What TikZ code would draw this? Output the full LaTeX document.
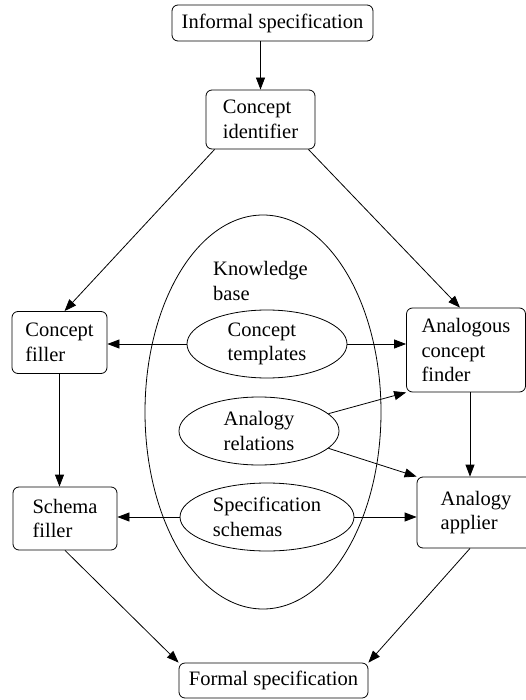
\documentclass[tikz,border=0pt]{standalone}
\usepackage{fontspec}
\setmainfont{Liberation Serif}
\usetikzlibrary{arrows.meta,shapes.geometric}
\begin{document}
\begin{tikzpicture}[x=1pt,y=-1pt,font=\fontsize{20.5}{24.5}\selectfont]
 \tikzstyle{unit} = [draw, rounded corners=6pt, align=left, inner sep=0pt, line width=0.8pt];
 \tikzstyle{store} = [draw, ellipse, align=left, inner sep=0pt, line width=0.8pt];
 \tikzstyle{flow} = [-{Triangle[length=12pt,width=9pt]}, line width=0.8pt];
 \useasboundingbox (0,0) rectangle (526,700);
\node [unit, minimum width=201pt, minimum height=36pt] (v1) at (272.5,23) {Informal specification};
\node [unit, minimum width=109pt, minimum height=59pt] (v2) at (260.5,119.5) {Concept\\identifier};
\node [unit, minimum width=95pt, minimum height=62pt] (v3) at (59.5,342.5) {Concept\\filler};
\node [unit, minimum width=119pt, minimum height=84pt] (v4) at (466,350) {Analogous\\concept\\finder};
\node [unit, minimum width=104pt, minimum height=63pt] (v5) at (65,518.5) {Schema\\filler};
\node [unit, minimum width=118pt, minimum height=71pt] (v6) at (476,512.5) {Analogy\\applier};
\node [unit, minimum width=189pt, minimum height=35pt] (v7) at (273.5,680.5) {Formal specification};

\node [store, minimum width=236pt, minimum height=394pt] (v8) at (263,412) {};
\node [align=left, inner sep=0pt, anchor=west] (v9) at (213,281) {Knowledge\\base};
\node [store, minimum width=160pt, minimum height=68pt] (v10) at (267,344) {Concept\\templates};
\node [store, minimum width=160pt, minimum height=68pt] (v11) at (259,431) {Analogy\\relations};
\node [store, minimum width=174pt, minimum height=68pt] (v12) at (267,517) {Specification\\schemas};

\draw [flow] (v1.south -| v2.north) -- (v2);
\draw [flow] ([xshift=9pt]v2.south west) -- ([xshift=5pt]v3.north);
\draw [flow] ([xshift=-7pt]v2.south east) -- ([xshift=-6pt]v4.north);
\draw [flow] (v10.west) -- (v10.west -| v3.east);
\draw [flow] (v10.east) -- (v10.east -| v4.west);
\draw [flow] (v11.14) -- (v4.south west);
\draw [flow] (v11.-14) -- (v6.north west);
\draw [flow] (v3.south) -- (v3.south |- v5.north);
\draw [flow] ([xshift=4pt]v4.south) -- ([xshift=4pt]v4.south |- v6.north);
\draw [flow] (v12.west) -- (v12.west -| v5.east);
\draw [flow] (v12.east) -- (v12.east -| v6.west);
\draw [flow] (v5.south) -- (v7.north west);
\draw [flow] ([xshift=-6pt]v6.south) -- (v7.north east);
\end{tikzpicture}
\end{document}
